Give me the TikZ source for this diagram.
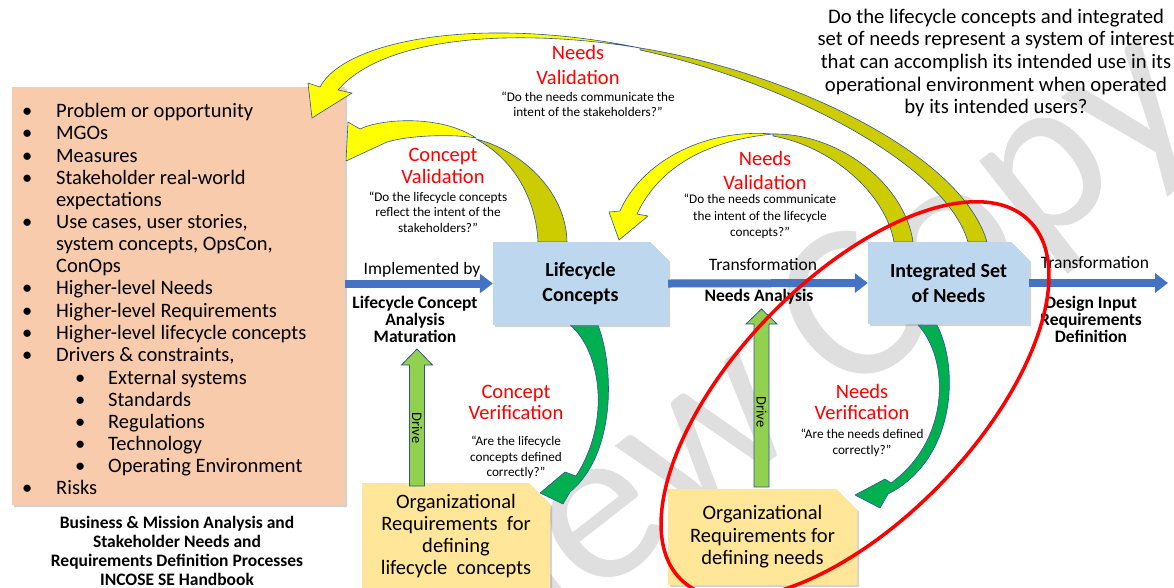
\documentclass[tikz,border=0pt]{standalone}
\usepackage{fontspec}
\setmainfont{Carlito}
\usetikzlibrary{arrows.meta}
\usetikzlibrary{positioning}
\usetikzlibrary{shapes.misc}
\usetikzlibrary{shadows}
\definecolor{mpeach}{RGB}{248, 203, 173}
\definecolor{mblue}{RGB}{68, 114, 196}
\definecolor{mline}{RGB}{47, 85, 151}
\definecolor{mbox}{RGB}{189, 215, 238}
\definecolor{mgold}{RGB}{255, 230, 153}
\definecolor{myellow}{RGB}{255, 255, 0}
\definecolor{molive}{RGB}{204, 204, 0}
\definecolor{mgreen}{RGB}{0, 176, 80}
\definecolor{mlime}{RGB}{146, 208, 80}
\definecolor{mred}{RGB}{255, 0, 0}
\tikzset{card/.style = {chamfered rectangle, chamfered rectangle corners = north east,
                        inner sep = 0, align = center,
                        drop shadow = {opacity = 0.35, shadow xshift = 2pt, shadow yshift = -2pt}}}
\tikzset{item/.style = {anchor = base west, inner sep = 0, font = \fontsize{20.5}{22}\selectfont}}
\tikzset{plain/.style = {inner sep = 0, align = center, font = \fontsize{17.5}{17}\selectfont}}
\tikzset{strong/.style = {inner sep = 0, align = center, font = \bfseries\fontsize{17.5}{17}\selectfont}}
\tikzset{check/.style = {inner sep = 0, align = center, text = mred, font = \fontsize{20.5}{22}\selectfont}}
\tikzset{quote/.style = {inner sep = 0, align = center, font = \fontsize{13.2}{15.5}\selectfont}}
\tikzset{flow/.style = {mblue, line width = 8pt, -{Triangle[length = 13pt, width = 19pt]}}}
\tikzset{front/.style = {fill = myellow, draw = mline, line width = 0.6pt, line join = round}}
\tikzset{back/.style = {fill = molive, draw = mline, line width = 0.6pt, line join = round}}
\tikzset{verify/.style = {fill = mgreen, draw = mline, line width = 0.6pt, line join = round}}
\tikzset{drive/.style = {fill = mlime, draw = mline, line width = 0.8pt}}

\begin{document}
\begin{tikzpicture}[x = 1pt, y = -1pt]
    \useasboundingbox (0, 0) rectangle (1174, 587);

    % watermark
    \node [rotate = 38, inner sep = 0, text = gray!25, font = \fontsize{225}{225}\selectfont] (stamp) at (712, 432) {Review Copy};

    % inputs
    \node [card, fill = mpeach, minimum width = 333, minimum height = 418,
           chamfered rectangle xsep = 53, chamfered rectangle ysep = 56] (inputs) at (178.5, 296) {};
    \foreach \y [count = \i] in {110, 132, 155, 177, 221, 287, 310, 332, 354, 487}
      \node [item] (dot\i) at (22, \y + 7) {\textbullet};
    \foreach \y [count = \i] in {377, 399, 421, 443, 465}
      \node [item] (subdot\i) at (75, \y + 7) {\textbullet};
    \foreach \y/\txt [count = \i] in {110/Problem or opportunity, 132/MGOs, 155/Measures,
        177/Stakeholder real-world, 199/expectations, 221/{Use cases, user stories,},
        243/{system concepts, OpsCon,}, 265/ConOps, 287/Higher-level Needs,
        310/Higher-level Requirements, 332/Higher-level lifecycle concepts,
        354/{Drivers \& constraints,}, 487/Risks}
      \node [item] (item\i) at (56, \y + 7) {\txt};
    \foreach \y/\txt [count = \i] in {377/External systems, 399/Standards, 421/Regulations,
        443/Technology, 465/Operating Environment}
      \node [item] (sub\i) at (108, \y + 7) {\txt};
    \node [strong, font = \bfseries\fontsize{17.5}{18.8}\selectfont] (handbook) at (177, 551)
      {Business \& Mission Analysis and\\Stakeholder Needs and\\Requirements Definition Processes\\INCOSE SE Handbook};

    % validation arrows
    \draw [back] (640, 48) .. controls (780, 70) and (960, 150) .. (987, 242)
      -- (968, 242) .. controls (945, 162) and (780, 80) .. (640, 50) -- cycle;
    \draw [front] (312, 118) -- (308, 83) -- (320, 87) .. controls (345, 40) and (480, 15) .. (640, 48)
      .. controls (520, 28) and (385, 35) .. (338, 90) -- (352, 93) -- cycle;
    \draw [back] (538, 242) .. controls (536, 200) and (515, 160) .. (476, 139)
      .. controls (520, 150) and (566, 190) .. (567, 242) -- cycle;
    \draw [front] (346, 161) -- (348, 122) -- (360, 129) .. controls (380, 119) and (440, 114) .. (476, 138)
      .. controls (455, 134) and (410, 135) .. (387, 142) -- cycle;
    \draw [back] (773, 134) .. controls (840, 133) and (905, 185) .. (913, 242)
      -- (894, 242) .. controls (885, 192) and (830, 146) .. (773, 136) -- cycle;
    \draw [front] (619, 240) -- (609, 212) -- (620, 211) .. controls (640, 165) and (700, 128) .. (773, 134)
      .. controls (710, 140) and (660, 165) .. (637, 214) -- (648, 216) -- cycle;

    % organizational requirements
    \node [card, fill = mgold, minimum width = 188, minimum height = 96,
           chamfered rectangle xsep = 10, chamfered rectangle ysep = 11,
           font = \fontsize{20.5}{22}\selectfont] (orglc) at (456, 536)
      {Organizational\\Requirements~ for\\defining\\lifecycle~ concepts};
    \node [card, fill = mgold, minimum width = 189, minimum height = 96,
           chamfered rectangle xsep = 10, chamfered rectangle ysep = 11,
           font = \fontsize{20.5}{22.5}\selectfont] (orgneeds) at (762.5, 537)
      {Organizational\\Requirements for\\defining needs};

    % verification arrows
    \draw [verify] (570, 325) .. controls (600, 350) and (612, 420) .. (576, 476) -- (565, 472)
      -- (540, 493) -- (563, 504) -- (570, 492) .. controls (615, 455) and (615, 370) .. (598, 325) -- cycle;
    \draw [verify] (918, 325) .. controls (950, 360) and (950, 440) .. (891, 483) -- (885, 479)
      -- (855, 495) -- (880, 508) -- (888, 494) .. controls (955, 460) and (960, 370) .. (937, 325) -- cycle;

    % products
    \node [card, fill = mbox, minimum width = 175, minimum height = 83,
           chamfered rectangle xsep = 8, chamfered rectangle ysep = 10,
           font = \bfseries\fontsize{20}{25}\selectfont] (lc) at (580.5, 283.5) {Lifecycle\\Concepts};
    \node [card, fill = mbox, minimum width = 161, minimum height = 82,
           chamfered rectangle xsep = 8, chamfered rectangle ysep = 10,
           font = \bfseries\fontsize{20}{25}\selectfont] (isn) at (948.5, 283) {Integrated Set\\of Needs};

    % transformations
    \coordinate (out) at (1168, 283);
    \draw [flow] (inputs.east |- lc.west) -- (lc.west);
    \draw [flow] (lc.east) -- (isn.west);
    \draw [flow] (isn.east) -- (out);
    \node [plain] (impl) at (422, 270) {Implemented by};
    \node [strong] (lcam) at (415, 319) {Lifecycle Concept\\Analysis\\Maturation};
    \node [plain] (trans1) at (763, 265) {Transformation};
    \node [strong] (na) at (759, 297) {Needs Analysis};
    \node [plain] (trans2) at (1095, 263) {Transformation};
    \node [strong] (dird) at (1091, 319) {Design Input\\Requirements\\Definition};

    % drive arrows
    \draw [drive] (409.5, 486) -- (409.5, 365) -- (401.5, 365) -- (417, 349) -- (432.5, 365)
      -- (424.5, 365) -- (424.5, 486) -- cycle;
    \draw [drive] (754, 487) -- (754, 324) -- (746, 324) -- (761.5, 309) -- (777, 324)
      -- (769, 324) -- (769, 487) -- cycle;
    \node [rotate = -90, inner sep = 0, font = \fontsize{14.5}{14.5}\selectfont] (drive1) at (417, 428) {Drive};
    \node [rotate = -90, inner sep = 0, font = \fontsize{14.5}{14.5}\selectfont] (drive2) at (761.5, 412) {Drive};

    % labels
    \node [check, font = \fontsize{20.5}{25}\selectfont] (nvtop) at (578, 65) {Needs\\Validation};
    \node [quote] (nvtopq) at (588, 104.5) {“Do the needs communicate the\\intent of the stakeholders?”};
    \node [check] (cval) at (443, 166) {Concept\\Validation};
    \node [quote] (cvalq) at (438, 212) {“Do the lifecycle concepts\\reflect the intent of the\\stakeholders?”};
    \node [check, font = \fontsize{20.5}{24}\selectfont] (nval) at (765, 170) {Needs\\Validation};
    \node [quote, font = \fontsize{13.2}{16.5}\selectfont] (nvalq) at (760, 216.5)
      {“Do the needs communicate\\the intent of the lifecycle\\concepts?”};
    \node [check, font = \fontsize{20.5}{21}\selectfont] (cver) at (516, 402.5) {Concept\\Verification};
    \node [quote] (cverq) at (516, 457.5) {“Are the lifecycle\\concepts defined\\correctly?”};
    \node [check, font = \fontsize{20.5}{20.5}\selectfont] (nver) at (862, 402) {Needs\\Verification};
    \node [quote, font = \fontsize{13.2}{16}\selectfont] (nverq) at (862, 443) {“Are the needs defined\\correctly?”};
    \node [inner sep = 0, align = center, font = \fontsize{20.7}{22.7}\selectfont] (question) at (996, 63)
      {Do the lifecycle concepts and integrated\\set of needs represent a system of interest\\that can accomplish its intended use in its\\operational environment when operated\\by its intended users?};

    % focus
    \begin{scope}[shift = {(855, 400)}, rotate = 46]
      \draw [mred, line width = 3.5pt] (0, 0) ellipse [x radius = 250, y radius = 120];
    \end{scope}
\end{tikzpicture}
\end{document}
